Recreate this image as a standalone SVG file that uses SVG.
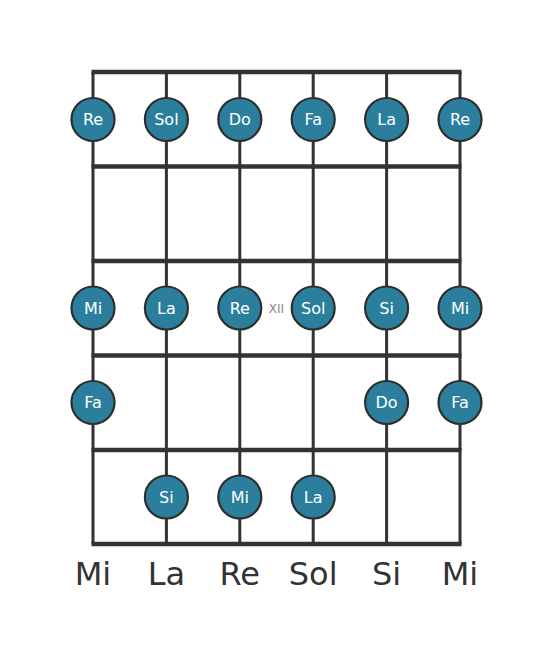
<svg xmlns="http://www.w3.org/2000/svg" width="553" height="656" viewBox="0 0 553 656">
<style>
.str{stroke:#333;stroke-width:3;fill:none}
.fret{stroke:#333;stroke-width:4.5;fill:none}
.dot{fill:#2b7f9c;stroke:#2d2d2d;stroke-width:2.2}
.nt{font-family:"DejaVu Sans",sans-serif;font-size:16px;fill:#fff;text-anchor:middle;dominant-baseline:central}
.lb{font-family:"DejaVu Sans",sans-serif;font-size:32px;fill:#333;text-anchor:middle}
.xii{font-family:"DejaVu Sans",sans-serif;font-size:12px;fill:#888;text-anchor:middle;dominant-baseline:central}
</style>
<rect width="553" height="656" fill="#fff"/>
<g id="connectors">
<line class="str" x1="93" y1="72" x2="93" y2="544"/>
<line class="str" x1="166.4" y1="72" x2="166.4" y2="544"/>
<line class="str" x1="239.8" y1="72" x2="239.8" y2="544"/>
<line class="str" x1="313.2" y1="72" x2="313.2" y2="544"/>
<line class="str" x1="386.6" y1="72" x2="386.6" y2="544"/>
<line class="str" x1="460" y1="72" x2="460" y2="544"/>
<line class="fret" x1="91.5" y1="72" x2="461.5" y2="72"/>
<line class="fret" x1="91.5" y1="166.5" x2="461.5" y2="166.5"/>
<line class="fret" x1="91.5" y1="261" x2="461.5" y2="261"/>
<line class="fret" x1="91.5" y1="355.5" x2="461.5" y2="355.5"/>
<line class="fret" x1="91.5" y1="450" x2="461.5" y2="450"/>
<line class="fret" x1="91.5" y1="544" x2="461.5" y2="544"/>
</g>
<g id="n-r1">
<circle class="dot" cx="93" cy="119.5" r="21.5"/><text class="nt" x="93" y="119.5">Re</text>
<circle class="dot" cx="166.4" cy="119.5" r="21.5"/><text class="nt" x="166.4" y="119.5">Sol</text>
<circle class="dot" cx="239.8" cy="119.5" r="21.5"/><text class="nt" x="239.8" y="119.5">Do</text>
<circle class="dot" cx="313.2" cy="119.5" r="21.5"/><text class="nt" x="313.2" y="119.5">Fa</text>
<circle class="dot" cx="386.6" cy="119.5" r="21.5"/><text class="nt" x="386.6" y="119.5">La</text>
<circle class="dot" cx="460" cy="119.5" r="21.5"/><text class="nt" x="460" y="119.5">Re</text>
</g>
<g id="n-r3">
<circle class="dot" cx="93" cy="308" r="21.5"/><text class="nt" x="93" y="308">Mi</text>
<circle class="dot" cx="166.4" cy="308" r="21.5"/><text class="nt" x="166.4" y="308">La</text>
<circle class="dot" cx="239.8" cy="308" r="21.5"/><text class="nt" x="239.8" y="308">Re</text>
<circle class="dot" cx="313.2" cy="308" r="21.5"/><text class="nt" x="313.2" y="308">Sol</text>
<circle class="dot" cx="386.6" cy="308" r="21.5"/><text class="nt" x="386.6" y="308">Si</text>
<circle class="dot" cx="460" cy="308" r="21.5"/><text class="nt" x="460" y="308">Mi</text>
<text class="xii" x="276.5" y="309">XII</text>
</g>
<g id="n-r4">
<circle class="dot" cx="93" cy="402.5" r="21.5"/><text class="nt" x="93" y="402.5">Fa</text>
<circle class="dot" cx="386.6" cy="402.5" r="21.5"/><text class="nt" x="386.6" y="402.5">Do</text>
<circle class="dot" cx="460" cy="402.5" r="21.5"/><text class="nt" x="460" y="402.5">Fa</text>
</g>
<g id="n-r5">
<circle class="dot" cx="166.4" cy="497" r="21.5"/><text class="nt" x="166.4" y="497">Si</text>
<circle class="dot" cx="239.8" cy="497" r="21.5"/><text class="nt" x="239.8" y="497">Mi</text>
<circle class="dot" cx="313.2" cy="497" r="21.5"/><text class="nt" x="313.2" y="497">La</text>
</g>
<g id="labels">
<text class="lb" x="93" y="585">Mi</text>
<text class="lb" x="166.4" y="585">La</text>
<text class="lb" x="239.8" y="585">Re</text>
<text class="lb" x="313.2" y="585">Sol</text>
<text class="lb" x="386.6" y="585">Si</text>
<text class="lb" x="460" y="585">Mi</text>
</g>
</svg>
